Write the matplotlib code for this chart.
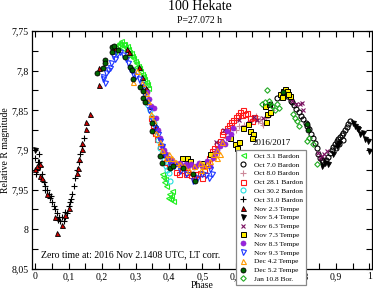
import matplotlib
matplotlib.use('Agg')
import matplotlib.pyplot as plt
from matplotlib.ticker import MultipleLocator, FuncFormatter

plt.rcParams['font.family'] = ['Liberation Serif', 'DejaVu Serif']

# phase / relative R magnitude per night
oct03_ph = [0.235, 0.24, 0.245, 0.25, 0.254, 0.258, 0.262, 0.266, 0.27, 0.274, 0.278, 0.282,
            0.286, 0.29, 0.294, 0.298, 0.302, 0.306, 0.31, 0.314, 0.318, 0.322, 0.326, 0.33,
            0.334, 0.338, 0.26, 0.28, 0.3, 0.32,
            0.38, 0.383, 0.386, 0.389, 0.392, 0.398, 0.401, 0.404, 0.407, 0.41, 0.413]
oct03_mag = [7.775, 7.77, 7.768, 7.765, 7.766, 7.763, 7.767, 7.766, 7.77, 7.769, 7.773, 7.776,
             7.778, 7.781, 7.784, 7.788, 7.79, 7.794, 7.797, 7.8, 7.804, 7.807, 7.81, 7.814,
             7.817, 7.822, 7.772, 7.78, 7.795, 7.812,
             7.93, 7.934, 7.94, 7.937, 7.945, 7.96, 7.955, 7.962, 7.958, 7.952, 7.964]

oct07_ph = [0.725, 0.74, 0.755, 0.765, 0.77, 0.775, 0.782, 0.79, 0.797, 0.803, 0.81, 0.815,
            0.82, 0.826, 0.832, 0.838, 0.843, 0.848, 0.853, 0.858, 0.863, 0.87, 0.876, 0.882,
            0.888, 0.893, 0.898, 0.903, 0.908, 0.913, 0.918, 0.922, 0.927, 0.932, 0.937, 0.942,
            0.9, 0.91, 0.92]
oct07_mag = [7.835, 7.83, 7.832, 7.838, 7.84, 7.843, 7.848, 7.852, 7.857, 7.861, 7.866, 7.87,
             7.874, 7.88, 7.885, 7.891, 7.898, 7.905, 7.91, 7.913, 7.914, 7.912, 7.909, 7.904,
             7.9, 7.896, 7.892, 7.889, 7.886, 7.884, 7.881, 7.878, 7.875, 7.871, 7.867, 7.864,
             7.897, 7.893, 7.887]

oct08_ph = [0.555, 0.57, 0.6, 0.61, 0.625, 0.64, 0.648, 0.655, 0.662, 0.668, 0.673, 0.678,
            0.683, 0.69, 0.697, 0.703, 0.71]
oct08_mag = [7.89, 7.885, 7.875, 7.87, 7.868, 7.866, 7.862, 7.86, 7.857, 7.864, 7.861, 7.866,
             7.868, 7.86, 7.856, 7.855, 7.85]

oct28_ph = [0.345, 0.352, 0.358, 0.365, 0.372, 0.38, 0.39, 0.4, 0.42, 0.43, 0.44, 0.45, 0.455,
            0.465, 0.475, 0.485, 0.493, 0.5, 0.505, 0.513, 0.52, 0.529, 0.536, 0.543, 0.553,
            0.558, 0.563, 0.573, 0.58, 0.587, 0.593, 0.6, 0.607, 0.613, 0.618, 0.623, 0.628,
            0.635, 0.643, 0.65, 0.655]
oct28_mag = [7.86, 7.868, 7.878, 7.886, 7.895, 7.905, 7.915, 7.92, 7.928, 7.93, 7.925, 7.93,
             7.928, 7.932, 7.935, 7.93, 7.929, 7.935, 7.925, 7.916, 7.91, 7.901, 7.897, 7.892,
             7.889, 7.88, 7.876, 7.872, 7.868, 7.865, 7.862, 7.858, 7.856, 7.852, 7.856, 7.85,
             7.855, 7.853, 7.86, 7.864, 7.858]

oct30_ph = [0.33, 0.336, 0.342, 0.348, 0.354, 0.36, 0.366, 0.372, 0.378, 0.384, 0.39, 0.395,
            0.399, 0.404]
oct30_mag = [7.835, 7.843, 7.85, 7.858, 7.866, 7.876, 7.888, 7.897, 7.905, 7.912, 7.92, 7.925,
             7.929, 7.939]

oct31_ph = [0.0, 0.003, 0.005, 0.01, 0.012, 0.015, 0.02, 0.025, 0.03, 0.035, 0.04, 0.045, 0.05,
            0.055, 0.06, 0.065, 0.07, 0.075, 0.08, 0.085, 0.09, 0.095, 0.1, 0.105, 0.11, 0.115,
            0.12, 0.125, 0.13, 0.135, 0.14, 0.145, 0.008, 0.028, 0.048, 0.068, 0.088, 0.108]
oct31_mag = [7.91, 7.93, 7.925, 7.905, 7.915, 7.92, 7.93, 7.94, 7.945, 7.95, 7.955, 7.96, 7.965,
             7.97, 7.975, 7.98, 7.985, 7.99, 7.985, 7.99, 7.985, 7.98, 7.97, 7.965, 7.955, 7.945,
             7.935, 7.925, 7.915, 7.905, 7.895, 7.885, 7.915, 7.95, 7.958, 7.988, 7.978, 7.962]

nov02_ph = [0.0, 0.005, 0.015, 0.015, 0.02, 0.035, 0.06, 0.065, 0.08, 0.09, 0.1, 0.125, 0.128,
            0.13, 0.14, 0.14, 0.152, 0.152, 0.164, 0.192, 0.192, 0.24, 0.274, 0.28, 0.31, 0.32,
            0.33, 0.345, 0.36, 0.385]
nov02_mag = [7.924, 7.92, 7.9175, 7.9325, 7.935, 7.955, 7.985, 8.004, 7.995, 7.9825, 7.9725,
             7.929, 7.9225, 7.911, 7.899, 7.891, 7.874, 7.865, 7.854, 7.818, 7.797, 7.772,
             7.773, 7.776, 7.796, 7.808, 7.822, 7.845, 7.87, 7.905]

nov05_ph = [0.0, 0.858, 0.868, 0.878, 0.893, 0.903, 0.91, 0.951, 0.958, 0.962, 0.967, 0.972,
            0.982, 0.987, 0.997, 1.0]
nov05_mag = [7.9, 7.92, 7.916, 7.918, 7.905, 7.895, 7.891, 7.866, 7.87, 7.872, 7.874, 7.88,
             7.879, 7.886, 7.889, 7.901]

nov06_ph = [0.54, 0.565, 0.61, 0.64, 0.655, 0.665, 0.683, 0.7, 0.763, 0.77, 0.78, 0.793, 0.798,
            0.803, 0.846, 0.852, 0.858, 0.865, 0.873]
nov06_mag = [7.89, 7.875, 7.862, 7.866, 7.858, 7.862, 7.86, 7.855, 7.835, 7.838, 7.842, 7.8425,
             7.841, 7.849, 7.904, 7.91, 7.9075, 7.905, 7.901]

nov07_ph = [0.44, 0.454, 0.463, 0.498, 0.523, 0.583, 0.598, 0.604, 0.61, 0.623, 0.638, 0.643,
            0.652, 0.648, 0.688, 0.693, 0.69, 0.703, 0.7, 0.733, 0.743, 0.748, 0.753, 0.763,
            0.758, 0.74]
nov07_mag = [7.91, 7.91, 7.914, 7.916, 7.905, 7.885, 7.8925, 7.898, 7.89, 7.8725, 7.8675, 7.876,
             7.88, 7.885, 7.845, 7.855, 7.865, 7.852, 7.8425, 7.83, 7.826, 7.8225, 7.826,
             7.8325, 7.829, 7.833]

nov08_ph = [0.334, 0.339, 0.347, 0.354, 0.36, 0.366, 0.372, 0.378, 0.384, 0.39, 0.396, 0.402,
            0.41, 0.418, 0.426, 0.434, 0.442, 0.45, 0.458, 0.466, 0.474, 0.482, 0.49, 0.5, 0.513,
            0.523, 0.533, 0.538, 0.545, 0.553, 0.56, 0.568, 0.573, 0.578, 0.585, 0.593]
nov08_mag = [7.8275, 7.836, 7.845, 7.8475, 7.86, 7.875, 7.885, 7.895, 7.9, 7.905, 7.91, 7.914,
             7.912, 7.916, 7.918, 7.916, 7.92, 7.918, 7.92, 7.918, 7.922, 7.92, 7.917, 7.92,
             7.914, 7.92, 7.91, 7.905, 7.9, 7.895, 7.89, 7.8925, 7.876, 7.885, 7.88, 7.8725]

nov09_ph = [0.204, 0.204, 0.208, 0.212, 0.219, 0.224, 0.228, 0.234, 0.239, 0.245, 0.255, 0.264,
            0.272, 0.278, 0.284, 0.289, 0.294, 0.3, 0.309, 0.315, 0.319, 0.326, 0.333, 0.34,
            0.35, 0.358, 0.366, 0.374, 0.38, 0.389, 0.4, 0.415, 0.434, 0.45, 0.473, 0.483, 0.5,
            0.51, 0.52, 0.523, 0.53]
nov09_mag = [7.811, 7.8075, 7.815, 7.803, 7.799, 7.797, 7.79, 7.782, 7.785, 7.779, 7.777, 7.78,
             7.785, 7.79, 7.7975, 7.8, 7.804, 7.807, 7.81, 7.817, 7.82, 7.83, 7.84, 7.85, 7.862,
             7.872, 7.88, 7.889, 7.895, 7.9075, 7.915, 7.92, 7.926, 7.93, 7.939, 7.935, 7.93,
             7.932, 7.935, 7.924, 7.93]

dec04_ph = [0.294, 0.305, 0.32, 0.33, 0.338, 0.345, 0.352, 0.36, 0.372, 0.38, 0.39, 0.399, 0.41,
            0.42, 0.434, 0.445, 0.46, 0.475, 0.493, 0.495, 0.505, 0.515, 0.523, 0.533, 0.543,
            0.553, 0.545, 0.56]
dec04_mag = [7.814, 7.8, 7.815, 7.828, 7.838, 7.855, 7.862, 7.878, 7.89, 7.9, 7.91, 7.905, 7.91,
             7.915, 7.918, 7.92, 7.925, 7.92, 7.916, 7.925, 7.92, 7.918, 7.914, 7.905, 7.91,
             7.905, 7.9, 7.89]

dec05_ph = [0.185, 0.204, 0.209, 0.209, 0.23, 0.23, 0.236, 0.249, 0.269, 0.284, 0.29, 0.294,
            0.314, 0.323, 0.323, 0.329, 0.35, 0.35, 0.374, 0.38, 0.404, 0.413, 0.443, 0.473,
            0.478, 0.703, 0.743, 0.813, 0.818]
dec05_mag = [7.8025, 7.797, 7.786, 7.79, 7.77, 7.776, 7.769, 7.774, 7.7825, 7.795, 7.799, 7.811,
             7.82, 7.826, 7.835, 7.839, 7.866, 7.876, 7.9075, 7.916, 7.9225, 7.92, 7.9225, 7.93,
             7.939, 7.8425, 7.8275, 7.8675, 7.875]

jan10_ph = [0.678, 0.687, 0.693, 0.7, 0.71, 0.718, 0.723, 0.73, 0.771, 0.778, 0.783, 0.79,
            0.813, 0.82, 0.833, 0.843]
jan10_mag = [7.8425, 7.84, 7.824, 7.838, 7.845, 7.85, 7.8425, 7.847, 7.855, 7.86, 7.864, 7.87,
             7.889, 7.885, 7.8925, 7.9175]

labels = ['Oct 3.1 Bardon', 'Oct 7.0 Bardon', 'Oct 8.0 Bardon', 'Oct 28.1 Bardon',
          'Oct 30.2 Bardon', 'Oct 31.0 Bardon', 'Nov 2.3 Tempe', 'Nov 5.4 Tempe',
          'Nov 6.3 Tempe', 'Nov 7.3 Tempe', 'Nov 8.3 Tempe', 'Nov 9.3 Tempe',
          'Dec 4.2 Tempe', 'Dec 5.2 Tempe', 'Jan 10.8 Bor.']

fig = plt.figure(figsize=(3.73, 2.91), dpi=100)
ax = fig.add_axes([0.0858, 0.0756, 0.9112, 0.8179])

ms = 3.6
mw = 0.8
ax.plot(oct03_ph, oct03_mag, ls='none', marker='<', ms=ms, mew=mw, mfc='none', mec='#22ee22', label=labels[0])
ax.plot(oct07_ph, oct07_mag, ls='none', marker='o', ms=ms, mew=mw, mfc='none', mec='black', label=labels[1])
ax.plot(oct08_ph, oct08_mag, ls='none', marker='+', ms=ms + 1, mew=mw, color='#cc8899', label=labels[2])
ax.plot(oct28_ph, oct28_mag, ls='none', marker='s', ms=ms, mew=mw, mfc='none', mec='#ff1a1a', label=labels[3])
ax.plot(oct30_ph, oct30_mag, ls='none', marker='o', ms=ms, mew=mw, mfc='none', mec='#22dddd', label=labels[4])
ax.plot(oct31_ph, oct31_mag, ls='none', marker='+', ms=ms + 1, mew=mw, color='black', label=labels[5])
ax.plot(nov02_ph, nov02_mag, ls='none', marker='^', ms=ms, mew=0.6, mfc='#cc0000', mec='black', label=labels[6])
ax.plot(nov05_ph, nov05_mag, ls='none', marker='v', ms=ms, mew=0.6, mfc='black', mec='black', label=labels[7])
ax.plot(nov06_ph, nov06_mag, ls='none', marker='x', ms=ms - 0.6, mew=mw, color='#7a1060', label=labels[8])
ax.plot(nov07_ph, nov07_mag, ls='none', marker='s', ms=ms, mew=0.7, mfc='#ffee00', mec='black', label=labels[9])
ax.plot(nov08_ph, nov08_mag, ls='none', marker='o', ms=ms, mew=0.5, mfc='#9922dd', mec='#8822cc', label=labels[10])
ax.plot(nov09_ph, nov09_mag, ls='none', marker='v', ms=ms, mew=mw, mfc='none', mec='#1a33ff', label=labels[11])
ax.plot(dec04_ph, dec04_mag, ls='none', marker='^', ms=ms, mew=mw, mfc='none', mec='#ff9900', label=labels[12])
ax.plot(dec05_ph, dec05_mag, ls='none', marker='o', ms=ms, mew=0.6, mfc='#006600', mec='black', label=labels[13])
ax.plot(jan10_ph, jan10_mag, ls='none', marker='D', ms=ms - 0.8, mew=mw, mfc='none', mec='#22aa22', label=labels[14])

ax.set_xlim(-0.01, 1.008)
ax.set_ylim(8.05, 7.75)
ax.xaxis.set_major_locator(MultipleLocator(0.1))
ax.xaxis.set_minor_locator(MultipleLocator(0.05))
ax.yaxis.set_major_locator(MultipleLocator(0.05))
ax.yaxis.set_minor_locator(MultipleLocator(0.025))
comma = FuncFormatter(lambda v, p: ('%g' % round(v, 3)).replace('.', ','))
ax.xaxis.set_major_formatter(comma)
ax.yaxis.set_major_formatter(comma)
ax.tick_params(which='both', direction='in', top=True, right=True, labelsize=7, width=0.8)
ax.tick_params(which='major', length=4, pad=2.5)
ax.tick_params(which='minor', length=4)
for s in ax.spines.values():
    s.set_linewidth(0.9)

ax.set_xlabel('Phase', fontsize=7, labelpad=0)
ax.set_ylabel('Relative R magnitude', fontsize=7, labelpad=1)

fig.text(0.535, 0.978, '100 Hekate', ha='center', va='center', fontsize=10)
fig.text(0.535, 0.931, 'P=27.072 h', ha='center', va='center', fontsize=7)
ax.text(0.016, 8.035, 'Zero time at: 2016 Nov 2.1408 UTC, LT corr.', fontsize=7, va='baseline')

fig.text(0.729, 0.509, '2016/2017', ha='center', va='center', fontsize=6.5)
leg = fig.legend(loc='upper left', bbox_to_anchor=(0.633, 0.4845), fontsize=5.3,
                 numpoints=1, frameon=True, fancybox=False, framealpha=1,
                 edgecolor='#888888', borderpad=0.35, labelspacing=0.36,
                 handlelength=1.2, handletextpad=0.9, borderaxespad=0)
leg.get_frame().set_linewidth(0.9)

fig.savefig('out.png', dpi=100)
